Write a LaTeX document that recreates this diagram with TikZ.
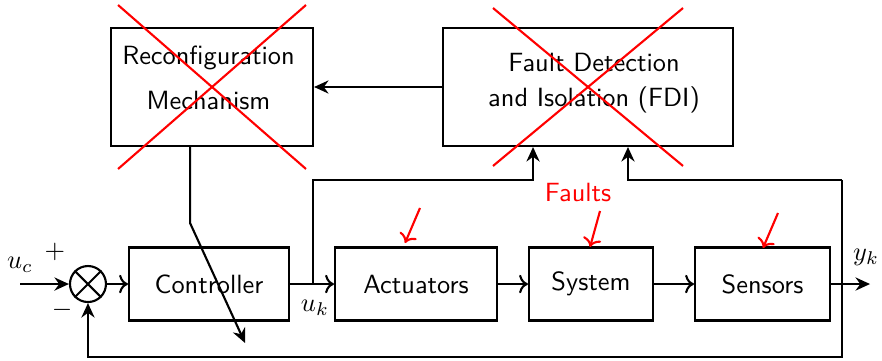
\documentclass[tikz,border=0pt]{standalone}
\usepackage{amsmath}
\usepackage{amssymb}
\usepackage{tikz}
\usepackage{xcolor}
\usetikzlibrary{arrows}
\usetikzlibrary{arrows.meta}

\tikzset{block/.style={draw,thick,minimum height=0.973cm,font=\sffamily}}
\tikzset{sig/.style={-{Stealth[length=5.5pt,width=5pt,inset=1.8pt]}}}

\begin{document}
\begin{tikzpicture}[thick]
\useasboundingbox (0,0) rectangle (11.76,-4.813);
% upper blocks
\node[block,minimum width=2.693cm,minimum height=1.573cm] (rec) at (2.827,-1.16) {};
\node[font=\sffamily,align=center] at (2.78,-1.04) {Reconfiguration\\[5pt]Mechanism};
\node[block,minimum width=3.867cm,minimum height=1.573cm] (fdi) at (7.84,-1.16) {};
\node[font=\sffamily,align=center] at (7.92,-1.11) {Fault Detection\\[1pt]and Isolation (FDI)};
% loop
\node[draw,circle,minimum size=0.48cm,inner sep=0pt] (sum) at (1.173,-3.787) {};
\draw (sum.north west) -- (sum.south east);
\draw (sum.north east) -- (sum.south west);
\node[block,minimum width=2.133cm] (ctrl) at (2.787,-3.787) {Controller};
\node[block,minimum width=2.16cm] (act) at (5.547,-3.787) {Actuators};
\node[block,minimum width=1.653cm] (sys) at (7.88,-3.787) {System};
\node[block,minimum width=1.8cm] (sen) at (10.167,-3.787) {Sensors};
\coordinate (in) at (0.267,-3.787);
\coordinate (out) at (11.6,-3.787);
\coordinate (br) at (4.173,-3.787);
\coordinate (fb) at (11.227,-2.4);
\draw[sig] (in) -- (sum.west);
\draw[->] (sum) -- (ctrl);
\draw[->] (ctrl) -- (act);
\draw[->] (act) -- (sys);
\draw[->] (sys) -- (sen);
\draw[sig] (sen) -- (out);
\draw[sig] (br) -- (4.173,-2.4) -| ([xshift=-0.733cm]fdi.south);
\draw[sig] (fb) -| ([xshift=0.533cm]fdi.south);
\draw[sig] (fb) -- (11.227,-4.76) -| (sum.south);
\draw[sig] (fdi.west) -- (rec.east);
\draw[sig] ([xshift=-0.293cm]rec.south) -- ++(0,-1.013) -- (3.267,-4.573);
\node at (0.267,-3.533) {$u_c$};
\node at (0.733,-3.36) {$+$};
\node at (0.827,-4.133) {$-$};
\node at (4.2,-4.107) {$u_k$};
\node at (11.547,-3.427) {$y_k$};
% faults
\node[red,font=\sffamily] (flt) at (7.707,-2.573) {Faults};
\draw[red,->] (5.6,-2.773) -- (5.4,-3.24);
\draw[red,->] (8.0,-2.813) -- (7.867,-3.293);
\draw[red,->] (10.373,-2.84) -- (10.173,-3.307);
% crosses
\draw[red] ([shift={(-1.253,1.093)}]rec.center) -- ([shift={(1.253,-1.093)}]rec.center);
\draw[red] ([shift={(1.253,1.093)}]rec.center) -- ([shift={(-1.253,-1.093)}]rec.center);
\draw[red] ([shift={(-1.267,1.053)}]fdi.center) -- ([shift={(1.267,-1.053)}]fdi.center);
\draw[red] ([shift={(1.267,1.053)}]fdi.center) -- ([shift={(-1.267,-1.053)}]fdi.center);
\end{tikzpicture}
\end{document}
